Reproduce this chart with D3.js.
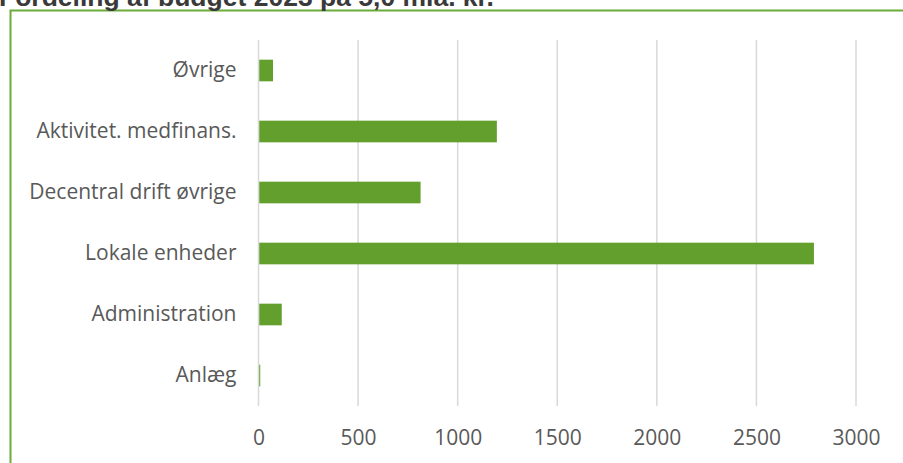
<!DOCTYPE html>
<html>
<head>
<meta charset="utf-8">
<script src="https://cdn.jsdelivr.net/npm/d3@7"></script>
<style>
  body { margin: 0; background: #fff; }
  svg { display: block; }
</style>
</head>
<body>
<div id="chart"></div>
<script>
// Data, top to bottom as drawn
const categories = ["Øvrige", "Aktivitet. medfinans.", "Decentral drift øvrige", "Lokale enheder", "Administration", "Anlæg"];
const values = [69, 1193, 810, 2785, 113, 5];
const xTicks = [0, 500, 1000, 1500, 2000, 2500, 3000];
const title = "Fordeling af budget 2023 på 5,0 mia. kr.";

const W = 903, H = 463;
const margin = {top: 40, right: 47, bottom: 57, left: 258.5};
const width = W - margin.left - margin.right;
const height = H - margin.top - margin.bottom;

const svg = d3.select("#chart")
    .append("svg")
    .attr("width", W)
    .attr("height", H);

// Outer green frame (cut off at right and bottom)
svg.append("rect")
    .attr("x", 10.5)
    .attr("y", 10.5)
    .attr("width", W + 20)
    .attr("height", H + 20)
    .attr("fill", "none")
    .attr("stroke", "#6aab3a")
    .attr("stroke-width", 2);

// Title, mostly cropped above the frame
svg.append("text")
    .attr("x", -1)
    .attr("y", 6)
    .style("font-family", "'Liberation Sans', Arial, sans-serif")
    .style("font-size", "26.5px")
    .style("font-weight", "bold")
    .style("fill", "#3a3a3a")
    .text(title);

const g = svg.append("g")
    .attr("transform", `translate(${margin.left},${margin.top})`);

const x = d3.scaleLinear()
    .domain([0, 3000])
    .range([0, width]);

const y = d3.scaleBand()
    .domain(categories)
    .range([0, height])
    .paddingInner(0.645)
    .paddingOuter(0.3225);

// Gridlines
g.selectAll(".grid")
    .data(xTicks)
    .join("line")
    .attr("class", "grid")
    .attr("x1", d => x(d))
    .attr("x2", d => x(d))
    .attr("y1", 0)
    .attr("y2", height)
    .attr("stroke", "#d9d9d9")
    .attr("stroke-width", 1.5);

// X axis labels
const xAxis = g.append("g")
    .attr("transform", `translate(0,${height})`)
    .call(d3.axisBottom(x).tickValues(xTicks).tickSize(0).tickPadding(24).tickFormat(d3.format("d")));
xAxis.select(".domain").remove();
xAxis.selectAll("text")
    .style("font-family", "'Open Sans', sans-serif")
    .style("font-size", "21px")
    .style("fill", "#595959");

// Y axis labels
const yAxis = g.append("g")
    .call(d3.axisLeft(y).tickSize(0).tickPadding(22));
yAxis.select(".domain").remove();
yAxis.selectAll("text")
    .style("font-family", "'Open Sans', sans-serif")
    .style("font-size", "21px")
    .style("fill", "#595959");

// Bars
g.selectAll(".bar")
    .data(values)
    .join("rect")
    .attr("class", "bar")
    .attr("x", x(0) + 0.75)
    .attr("y", (d, i) => y(categories[i]))
    .attr("width", d => Math.max(1, x(d) - x(0)))
    .attr("height", y.bandwidth())
    .attr("fill", "#629f2c");
</script>
</body>
</html>
